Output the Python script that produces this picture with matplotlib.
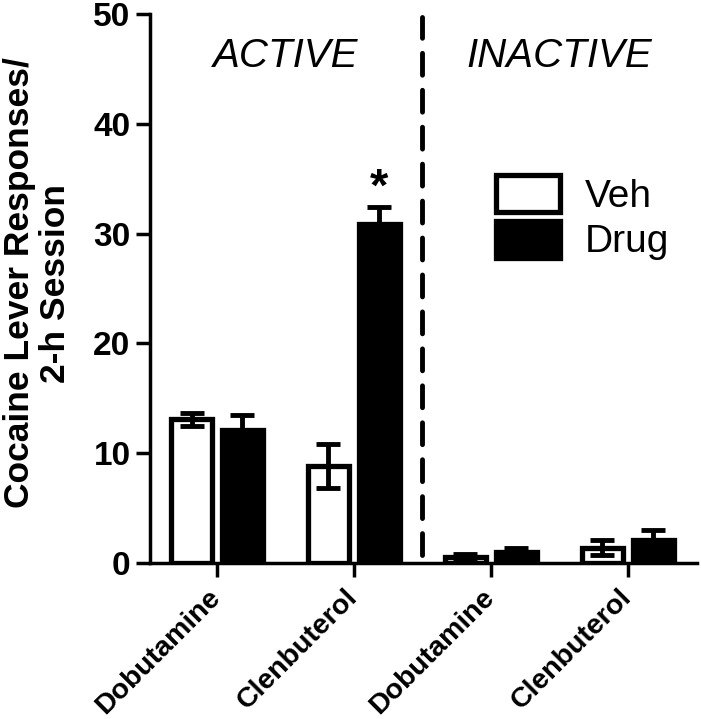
import numpy as np
import matplotlib
matplotlib.use("Agg")
import matplotlib.pyplot as plt

plt.rcParams["font.family"] = ["Liberation Sans", "DejaVu Sans"]

# data (mean +/- SEM)
drugs = ["Dobutamine", "Clenbuterol", "Dobutamine", "Clenbuterol"]
veh_mean = [13.1, 8.8, 0.5, 1.4]
veh_sem = [0.6, 2.0, 0.3, 0.7]
drug_mean = [12.1, 30.9, 1.0, 2.1]
drug_sem = [1.4, 1.5, 0.4, 0.9]

x = np.arange(len(drugs))
off = 0.186
w = 0.30

fig = plt.figure(figsize=(7.01, 7.19), dpi=100)
ax = fig.add_axes([0.214, 0.217, 0.78, 0.7635])

ax.bar(x - off, veh_mean, w, color="white", edgecolor="black", linewidth=3.8,
       label="Veh", zorder=2)
ax.bar(x + off, drug_mean, w, color="black", edgecolor="black", linewidth=3.8,
       label="Drug", zorder=2)
for xs, m, s in [(x - off, veh_mean, veh_sem), (x + off, drug_mean, drug_sem)]:
    eb = ax.errorbar(xs, m, yerr=s, fmt="none", ecolor="black", elinewidth=3.5,
                     capsize=8.5, capthick=3.5, zorder=3)
    for ln in eb.lines[1]:
        ln.set_solid_capstyle("round")

# significance marker above clenbuterol drug bar
ax.text(x[1] + off, drug_mean[1] + drug_sem[1] - 0.35, "*", ha="center",
        va="bottom", fontsize=34, fontweight="bold")

# separator between active / inactive lever
ax.axvline(1.5, ymin=0.015, ymax=0.995, color="black", lw=3.5,
           ls=(0, (4.5, 3.1)), dash_capstyle="round")

ax.text(0.5, 46.2, "ACTIVE", ha="center", va="center", fontsize=29,
        fontstyle="italic")
ax.text(2.5, 46.2, "INACTIVE", ha="center", va="center", fontsize=29,
        fontstyle="italic")

ax.set_xlim(-0.489, 3.504)
ax.set_ylim(0, 50)
ax.set_yticks(np.arange(0, 51, 10))
ax.set_xticks(x)
ax.set_xticklabels(drugs, rotation=45, ha="right", va="center",
                   rotation_mode="anchor", fontsize=20.5, fontweight="bold")
for lab in ax.get_yticklabels():
    lab.set_fontsize(24)
    lab.set_fontweight("bold")
ax.tick_params(axis="both", width=2.5, length=10, pad=4)
ax.tick_params(axis="x", length=10, pad=12)

for sp in ["top", "right"]:
    ax.spines[sp].set_visible(False)
for sp in ["left", "bottom"]:
    ax.spines[sp].set_linewidth(2.5)

ax.set_ylabel("Cocaine Lever Responses/\n2-h Session", fontsize=25.5,
              fontweight="bold", linespacing=1.1)
ax.yaxis.set_label_coords(-0.1426, 0.51)

ax.legend(loc="upper left", bbox_to_anchor=(0.633, 0.707), frameon=False,
          fontsize=28, handlelength=1.65, handleheight=1.1, labelspacing=0.15,
          handletextpad=0.64, borderpad=0, borderaxespad=0)

fig.savefig("out.png", dpi=100)
